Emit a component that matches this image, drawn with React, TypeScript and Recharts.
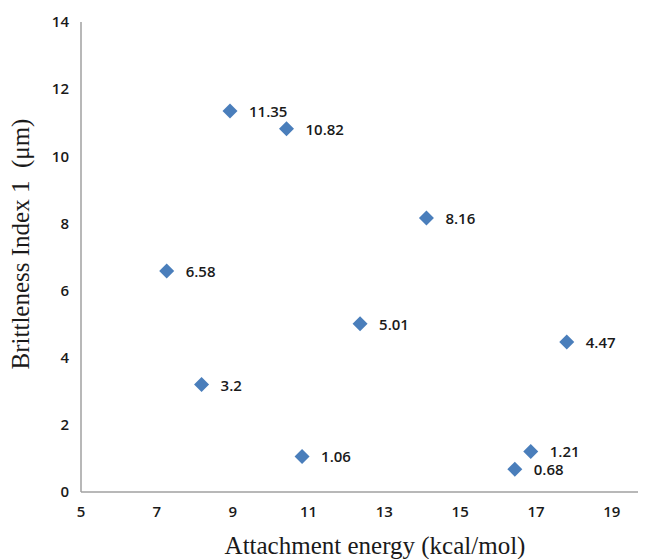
import React from "react";
import { ScatterChart, Scatter, XAxis, YAxis, LabelList } from "recharts";

const energies = [8.93, 10.42, 14.11, 7.26, 12.36, 17.81, 8.18, 10.83, 16.86, 16.44];
const brittleness = [11.35, 10.82, 8.16, 6.58, 5.01, 4.47, 3.2, 1.06, 1.21, 0.68];
const xTicks = [5, 7, 9, 11, 13, 15, 17, 19];
const yTicks = [0, 2, 4, 6, 8, 10, 12, 14];

const data = energies.map((x, i) => ({ x, y: brittleness[i], label: String(brittleness[i]) }));

const Diamond = (props: any) => {
  const { cx, cy } = props;
  const r = 7.5;
  return (
    <polygon
      points={`${cx},${cy - r} ${cx + r},${cy} ${cx},${cy + r} ${cx - r},${cy}`}
      fill="#4A7EBB"
    />
  );
};

const PointLabel = (props: any) => {
  const { x, y, width, height, value } = props;
  const cx = x + (width || 0) / 2;
  const cy = y + (height || 0) / 2;
  return (
    <text
      x={cx + 19}
      y={cy + 2}
      dominantBaseline="middle"
      fontFamily="'Open Sans', sans-serif"
      fontWeight={600}
      fontSize={15}
      fill="#1a1a1a"
    >
      {value}
    </text>
  );
};

const tickStyle = {
  fontFamily: "'Open Sans', sans-serif",
  fontWeight: 600,
  fontSize: 15,
  fill: "#1a1a1a",
};

export default function App() {
  return (
    <div style={{ position: "relative", width: 638, height: 551 }}>
      <ScatterChart width={638} height={551} margin={{ top: 14, right: 0, bottom: 0, left: 0 }}>
        <XAxis
          type="number"
          dataKey="x"
          domain={[5, 19.9]}
          ticks={xTicks}
          allowDataOverflow
          tickLine={false}
          tickSize={0}
          tickMargin={14}
          height={67}
          axisLine={{ stroke: "#a0a0a0", strokeWidth: 1.5 }}
          tick={tickStyle}
          interval={0}
        />
        <YAxis
          type="number"
          dataKey="y"
          domain={[0, 14]}
          ticks={yTicks}
          tickLine={false}
          tickSize={0}
          tickMargin={12}
          width={73}
          axisLine={{ stroke: "#a0a0a0", strokeWidth: 1.5 }}
          tick={tickStyle}
          interval={0}
        />
        <Scatter data={data} shape={<Diamond />} isAnimationActive={false}>
          <LabelList dataKey="label" content={<PointLabel />} />
        </Scatter>
        <text
          x={367}
          y={546}
          textAnchor="middle"
          fontFamily="'Liberation Serif', serif"
          fontSize={25}
          fill="#1a1a1a"
        >
          Attachment energy (kcal/mol)
        </text>
        <text
          x={15}
          y={236}
          textAnchor="middle"
          transform="rotate(-90 15 236)"
          dominantBaseline="middle"
          fontFamily="'Liberation Serif', serif"
          fontSize={25}
          fill="#1a1a1a"
        >
          {"Brittleness Index 1 \u00A0(μm)"}
        </text>
      </ScatterChart>
    </div>
  );
}
